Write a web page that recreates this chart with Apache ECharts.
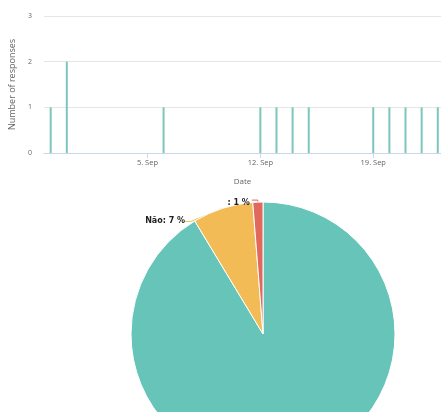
<!DOCTYPE html>
<html>
<head>
<meta charset="utf-8">
<script src="https://cdn.jsdelivr.net/npm/echarts@6/dist/echarts.min.js"></script>
<style>
html,body{margin:0;padding:0;background:#fff;}
#c{width:441px;height:412px;}
</style>
</head>
<body>
<div id="c"></div>
<script>
// ---- data ----
var responseDates = ['2021-08-30','2021-08-31','2021-09-06','2021-09-12','2021-09-13','2021-09-14','2021-09-15','2021-09-19','2021-09-20','2021-09-21','2021-09-22','2021-09-23'];
var responseCounts = [1, 2, 1, 1, 1, 1, 1, 1, 1, 1, 1, 1];
var tickDates = ['2021-09-05','2021-09-12','2021-09-19'];
var yTicks = [0, 1, 2, 3];
var pieNames = ['Sim', 'Não', ''];
var pieValues = [74, 6, 1];
var pieColors = ['#66c4b8', '#f3bb56', '#e0685c'];

var MS_DAY = 86400000;
var MONTHS = ['Jan','Feb','Mar','Apr','May','Jun','Jul','Aug','Sep','Oct','Nov','Dec'];
function dayNum(s){ var p = s.split('-'); return Date.UTC(+p[0], +p[1]-1, +p[2]) / MS_DAY; }
function fmtDay(v){ var d = new Date(Math.round(v) * MS_DAY); return d.getUTCDate() + '. ' + MONTHS[d.getUTCMonth()]; }

var barData = responseDates.map(function(d, i){ return [dayNum(d), responseCounts[i]]; });
var tickVals = tickDates.map(dayNum);
var ref = dayNum('2021-09-05');

var chart = echarts.init(document.getElementById('c'), null, {renderer: 'canvas'});
chart.setOption({
  animation: false,
  backgroundColor: '#fff',
  textStyle: {fontFamily: 'Open Sans'},
  grid: {left: 40, top: 16, width: 403, height: 137},
  xAxis: {
    type: 'value',
    min: ref - 6.42,
    max: ref + 18.2,
    name: 'Date',
    nameLocation: 'middle',
    nameGap: 25,
    nameTextStyle: {color: '#666', fontSize: 8, fontFamily: 'Open Sans'},
    axisLine: {show: true, lineStyle: {color: '#ccd6eb', width: 1}},
    axisTick: {show: true, length: 5, lineStyle: {color: '#ccd6eb'}, customValues: tickVals},
    axisLabel: {color: '#666', fontSize: 7.5, margin: 6, customValues: tickVals, formatter: fmtDay},
    splitLine: {show: false}
  },
  yAxis: {
    type: 'value',
    min: yTicks[0],
    max: yTicks[yTicks.length - 1],
    interval: 1,
    name: 'Number of responses',
    nameLocation: 'middle',
    nameRotate: 90,
    nameGap: 24,
    nameTextStyle: {color: '#666', fontSize: 9, fontFamily: 'Open Sans'},
    axisLine: {show: false},
    axisTick: {show: false},
    axisLabel: {color: '#666', fontSize: 7, margin: 12},
    splitLine: {lineStyle: {color: '#e6e6e6', width: 1}}
  },
  series: [
    {
      type: 'bar',
      data: barData,
      barWidth: 2,
      itemStyle: {color: '#7cc6be'},
      silent: true
    },
    {
      type: 'pie',
      center: [263, 334],
      radius: 132,
      startAngle: 90,
      clockwise: true,
      avoidLabelOverlap: false,
      data: pieNames.map(function(n, i){ return {name: n, value: pieValues[i], itemStyle: {color: pieColors[i]}}; }),
      itemStyle: {borderColor: '#fff', borderWidth: 1},
      label: {
        show: true,
        formatter: function(p){ return p.name + ': ' + Math.round(p.percent) + ' %'; },
        fontFamily: 'DejaVu Sans',
        fontWeight: 'bold',
        fontSize: 8,
        color: '#222',
        distanceToLabelLine: 2
      },
      labelLine: {show: true, length: 2, length2: 6, lineStyle: {width: 1}},
      labelLayout: function(p){
        var r = p.labelRect;
        if (p.dataIndex === 1) {
          return {x: r.x + r.width - 29, y: r.y + r.height / 2 + 15, align: 'right', verticalAlign: 'middle'};
        }
        if (p.dataIndex === 2) {
          return {dy: 3};
        }
        return {};
      }
    }
  ]
});
</script>
</body>
</html>
